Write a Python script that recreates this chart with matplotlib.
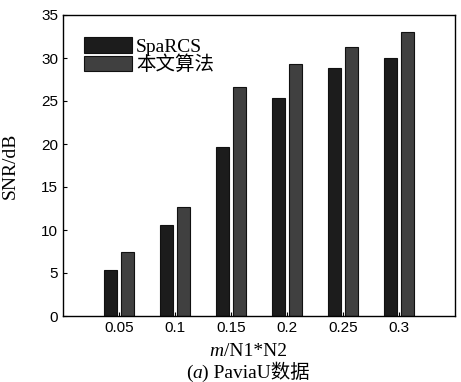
import matplotlib.pyplot as plt
import numpy as np
from matplotlib.offsetbox import TextArea, HPacker, AnchoredOffsetbox

ratios = ['0.05', '0.1', '0.15', '0.2', '0.25', '0.3']
snr_sparcs = [5.3, 10.6, 19.6, 25.3, 28.8, 30.0]
snr_ours = [7.5, 12.7, 26.6, 29.3, 31.3, 33.0]
names = ['SpaRCS', '本文算法']

serif = ['Liberation Serif', 'Noto Sans CJK SC']
plt.rcParams['font.family'] = ['Liberation Sans', 'Noto Sans CJK SC']

fig = plt.figure(figsize=(4.61, 3.82), dpi=100)
ax = fig.add_axes([63/461, 1-316/382, 392/461, 301/382])

x = np.arange(1, len(ratios) + 1)
w = 0.235
ax.bar(x - 0.145, snr_sparcs, w, color='#1c1c1c', edgecolor='#111111', linewidth=0.8, label=names[0])
ax.bar(x + 0.145, snr_ours, w, color='#404040', edgecolor='#111111', linewidth=0.8, label=names[1])

ax.set_xlim(0, 7)
ax.set_ylim(0, 35)
ax.set_xticks(x)
ax.set_xticklabels(ratios)
ax.set_yticks(np.arange(0, 36, 5))
ax.tick_params(direction='in', labelsize=11, length=3, width=0.8)
for s in ax.spines.values():
    s.set_linewidth(1.0)

ax.set_ylabel('SNR/dB', fontsize=14, family=serif)
ax.yaxis.set_label_coords(-44/392, 0.5)

leg = ax.legend(loc='upper left', bbox_to_anchor=(0.035, 0.952), frameon=False,
                prop={'family': serif, 'size': 14}, handlelength=2.45, handleheight=0.85,
                labelspacing=0.0, handletextpad=0.2, borderaxespad=0)


def label_row(parts, y):
    boxes = [TextArea(t, textprops=dict(fontsize=14, family=serif, style=st)) for t, st in parts]
    box = HPacker(children=boxes, align='baseline', pad=0, sep=0)
    anc = AnchoredOffsetbox(loc='center', child=box, pad=0, frameon=False,
                            bbox_to_anchor=(248/461, 1 - y/382), bbox_transform=fig.transFigure,
                            borderpad=0)
    fig.add_artist(anc)


label_row([('m', 'italic'), ('/N1*N2', 'normal')], 351)
label_row([('(', 'normal'), ('a', 'italic'), (') PaviaU数据', 'normal')], 372)

fig.savefig('out.png', dpi=100)
